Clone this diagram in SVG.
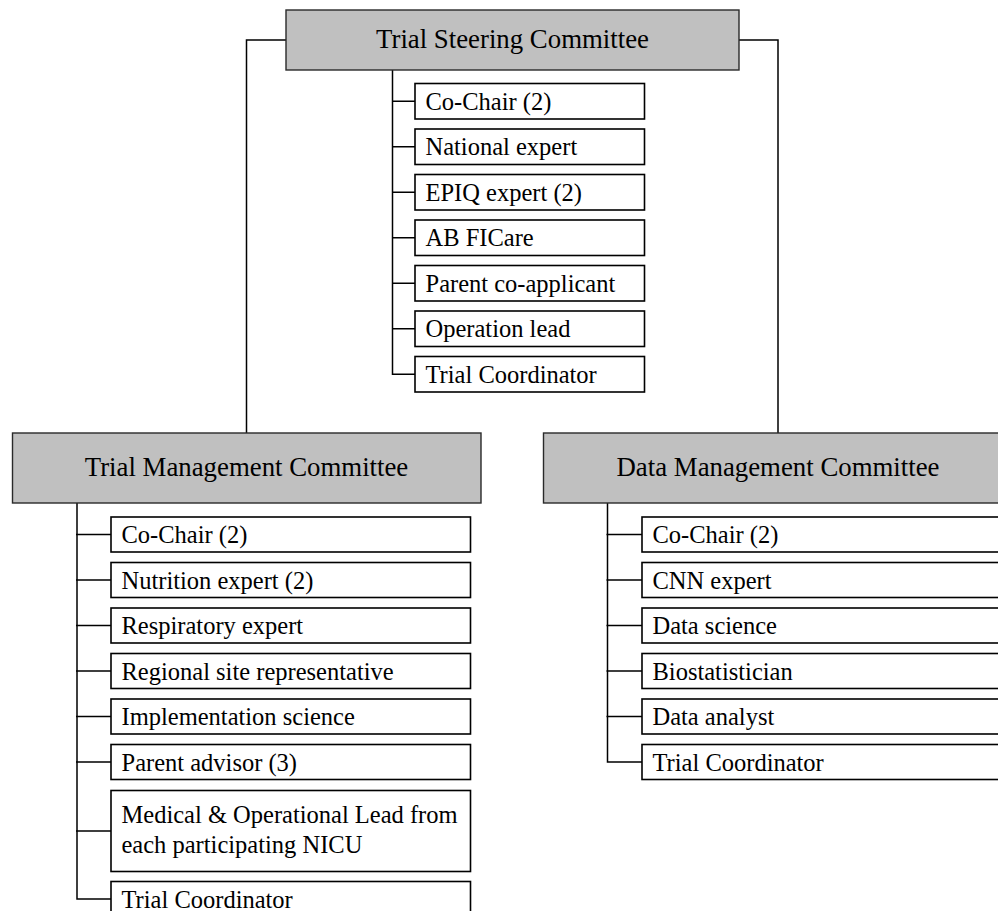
<svg xmlns="http://www.w3.org/2000/svg" width="998" height="911" viewBox="0 0 998 911">
<style>
  .hdr rect { fill: #c0c0c0; stroke: #2a2a2a; stroke-width: 1.4; }
  .hdr text { font-family: "Liberation Serif", "Times New Roman", serif; font-size: 26.8px; fill: #000; text-anchor: middle; }
  .item rect { fill: #ffffff; stroke: #000; stroke-width: 1.6; }
  .item text { font-family: "Liberation Serif", "Times New Roman", serif; font-size: 24.5px; fill: #000; }
  #connectors path { fill: none; stroke: #000; stroke-width: 1.5; }
</style>
<rect width="998" height="911" fill="#ffffff"/>

<g id="connectors">
  <!-- top-level -->
  <path d="M286 40 H246.5 V433"/>
  <path d="M739 40 H778 V433"/>
  <!-- TSC trunk -->
  <path d="M392.5 70 V374.25 H415"/>
  <path d="M392.5 101.25 H415 M392.5 146.75 H415 M392.5 192.25 H415 M392.5 237.75 H415 M392.5 283.25 H415 M392.5 328.75 H415"/>
  <!-- TMC trunk -->
  <path d="M77 503 V899 H111"/>
  <path d="M76 534.5 H111 M76 580 H111 M76 625.5 H111 M76 671 H111 M76 716.5 H111 M76 762 H111 M76 831 H111"/>
  <!-- DMC trunk -->
  <path d="M607.5 503 V762 H642"/>
  <path d="M606.5 534.5 H642 M606.5 580 H642 M606.5 625.5 H642 M606.5 671 H642 M606.5 716.5 H642"/>
</g>

<g id="tsc" class="hdr">
  <rect x="286" y="10" width="453" height="60"/>
  <text x="512.5" y="48">Trial Steering Committee</text>
</g>
<g id="tmc" class="hdr">
  <rect x="12.5" y="433" width="468.5" height="70"/>
  <text x="246.5" y="476">Trial Management Committee</text>
</g>
<g id="dmc" class="hdr">
  <rect x="543.5" y="433" width="468.5" height="70"/>
  <text x="778" y="476">Data Management Committee</text>
</g>

<!-- TSC members -->
<g id="tsc-cochair" class="item"><rect x="415" y="83.5" width="229.5" height="35.5"/><text x="425.5" y="109.5">Co-Chair (2)</text></g>
<g id="tsc-national" class="item"><rect x="415" y="129" width="229.5" height="35.5"/><text x="425.5" y="155">National expert</text></g>
<g id="tsc-epiq" class="item"><rect x="415" y="174.5" width="229.5" height="35.5"/><text x="425.5" y="200.5">EPIQ expert (2)</text></g>
<g id="tsc-abficare" class="item"><rect x="415" y="220" width="229.5" height="35.5"/><text x="425.5" y="246">AB FICare</text></g>
<g id="tsc-parent" class="item"><rect x="415" y="265.5" width="229.5" height="35.5"/><text x="425.5" y="291.5">Parent co-applicant</text></g>
<g id="tsc-operation" class="item"><rect x="415" y="311" width="229.5" height="35.5"/><text x="425.5" y="337">Operation lead</text></g>
<g id="tsc-coord" class="item"><rect x="415" y="356.5" width="229.5" height="35.5"/><text x="425.5" y="382.5">Trial Coordinator</text></g>

<!-- TMC members -->
<g id="tmc-cochair" class="item"><rect x="111" y="517" width="359.5" height="35"/><text x="121.5" y="543">Co-Chair (2)</text></g>
<g id="tmc-nutrition" class="item"><rect x="111" y="562.5" width="359.5" height="35"/><text x="121.5" y="588.5">Nutrition expert (2)</text></g>
<g id="tmc-resp" class="item"><rect x="111" y="608" width="359.5" height="35"/><text x="121.5" y="634">Respiratory expert</text></g>
<g id="tmc-regional" class="item"><rect x="111" y="653.5" width="359.5" height="35"/><text x="121.5" y="679.5">Regional site representative</text></g>
<g id="tmc-impl" class="item"><rect x="111" y="699" width="359.5" height="35"/><text x="121.5" y="725">Implementation science</text></g>
<g id="tmc-parent" class="item"><rect x="111" y="744.5" width="359.5" height="35"/><text x="121.5" y="770.5">Parent advisor (3)</text></g>
<g id="tmc-medical" class="item"><rect x="111" y="790.5" width="359.5" height="81"/><text x="121.5" y="823">Medical &amp; Operational Lead from</text><text x="121.5" y="853">each participating NICU</text></g>
<g id="tmc-coord" class="item"><rect x="111" y="881.5" width="359.5" height="35"/><text x="121.5" y="907.5">Trial Coordinator</text></g>

<!-- DMC members -->
<g id="dmc-cochair" class="item"><rect x="642" y="517" width="360" height="35"/><text x="652.5" y="543">Co-Chair (2)</text></g>
<g id="dmc-cnn" class="item"><rect x="642" y="562.5" width="360" height="35"/><text x="652.5" y="588.5">CNN expert</text></g>
<g id="dmc-datasci" class="item"><rect x="642" y="608" width="360" height="35"/><text x="652.5" y="634">Data science</text></g>
<g id="dmc-biostat" class="item"><rect x="642" y="653.5" width="360" height="35"/><text x="652.5" y="679.5">Biostatistician</text></g>
<g id="dmc-analyst" class="item"><rect x="642" y="699" width="360" height="35"/><text x="652.5" y="725">Data analyst</text></g>
<g id="dmc-coord" class="item"><rect x="642" y="744.5" width="360" height="35"/><text x="652.5" y="770.5">Trial Coordinator</text></g>
</svg>
